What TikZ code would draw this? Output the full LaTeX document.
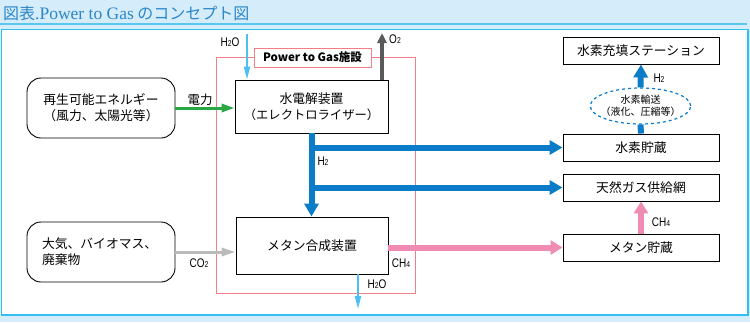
\documentclass[tikz,border=0pt]{standalone}
\usepackage{fontspec}
\setmainfont{Noto Sans CJK JP}
\newfontfamily\titlelatin{Liberation Serif}
\newfontfamily\cond[FakeStretch=0.8]{Liberation Sans}
\usetikzlibrary{arrows.meta,shapes.geometric}
\definecolor{bgblue}{HTML}{D5ECFA}
\definecolor{titleline}{HTML}{5CC6EF}
\definecolor{panelc}{HTML}{33BEF0}
\definecolor{titleblue}{HTML}{2B86C8}
\definecolor{redc}{HTML}{F07F86}
\definecolor{greenc}{HTML}{27A844}
\definecolor{lblue}{HTML}{4DBFF0}
\definecolor{darkg}{HTML}{5A5A5A}
\definecolor{bluec}{HTML}{0A7CC8}
\definecolor{lgray}{HTML}{BBBBBB}
\definecolor{pinkc}{HTML}{F08CB4}
\newcommand\subs[1]{{\fontsize{8.5}{8.5}\selectfont #1}}
\newcommand\lpar{\makebox[0.55em][r]{（}}
\newcommand\rpar{\makebox[0.55em][l]{）}}
\begin{document}
\begin{tikzpicture}[x=1pt,y=-1pt,
  box/.style={draw=black, line width=0.9pt, fill=white, inner sep=0pt, font=\fontsize{12.8}{16}\selectfont, align=center},
  rbox/.style={box, rounded corners=14pt},
  lbl/.style={font=\cond\fontsize{12.5}{12.5}\selectfont, inner sep=0pt},
  jlbl/.style={font=\fontsize{12.5}{12.5}\selectfont, inner sep=0pt},
  bluearr/.style={draw=bluec, line width=6pt, -{Triangle[length=13pt,width=14pt]}},
  blueline/.style={draw=bluec, line width=6pt},
  pinkarr/.style={draw=pinkc, line width=6pt, -{Triangle[length=12pt,width=14pt]}},
  greenarr/.style={draw=greenc, line width=3pt, -{Triangle[length=13pt,width=8pt]}},
  co2arr/.style={draw=lgray, line width=3pt, -{Triangle[length=14pt,width=8pt]}},
  lbarr/.style={draw=lblue, line width=2pt, -{Triangle[length=13pt,width=6pt]}},
  o2arr/.style={draw=darkg, line width=4pt, -{Triangle[length=10pt,width=9pt]}}
]
\useasboundingbox (0,0) rectangle (750,322);
\fill[bgblue] (0,0) rectangle (750,322);
\draw[titleline, line width=1.5pt] (0,24) -- (747,24);
\filldraw[fill=white, draw=panelc, line width=1.5pt] (1.5,29.5) rectangle (748,315);
\node[anchor=west, text=titleblue, inner sep=0pt, font=\fontsize{16}{16}\selectfont] (title) at (3,13) {図表{\titlelatin\fontsize{17.5}{17.5}\selectfont .Power to Gas} のコンセプト図};

% facility frame
\draw[redc, line width=0.9pt] (216,57) rectangle (415,293);
\node[draw=redc, line width=0.9pt, fill=white, minimum width=117pt, minimum height=19pt, inner sep=0pt, font=\bfseries\fontsize{11.5}{11.5}\selectfont] (ptg) at (312.5,57.5) {Power to Gas施設};

% boxes
\node[box, minimum width=153pt, minimum height=53pt] (e) at (311.5,106.5) {水電解装置\\{\fontsize{12.3}{16}\selectfont\lpar エレクトロライザー\rpar}};
\node[box, minimum width=152pt, minimum height=57pt] (m) at (312,245.5) {メタン合成装置};
\node[rbox, minimum width=148pt, minimum height=60pt] (rb) at (101,108) {再生可能エネルギー\\\lpar 風力、太陽光等\rpar};
\node[rbox, minimum width=148pt, minimum height=60pt, text width=118pt, align=left] (ab) at (101,252) {大気、バイオマス、\\廃棄物};
\node[box, minimum width=156pt, minimum height=27pt] (st) at (641,50.5) {水素充填ステーション};
\node[box, minimum width=156pt, minimum height=27pt] (hs) at (641,147.5) {水素貯蔵};
\node[box, minimum width=156pt, minimum height=27pt] (ng) at (641,187.5) {天然ガス供給網};
\node[box, minimum width=156pt, minimum height=27pt] (ms) at (641,247.5) {メタン貯蔵};
\node[ellipse, draw=bluec, dashed, line width=1.2pt, fill=white, minimum width=91pt, minimum height=36pt, inner sep=0pt, align=center, font=\fontsize{10}{12}\selectfont] (tr) at (640.5,106) {水素輸送\\\lpar 液化、圧縮等\rpar};

% connectors
\draw[greenarr] (rb.east) -- (e.west |- rb.east);
\node[jlbl] (lpow) at (200,100) {電力};

\coordinate (h2oin) at (247,34);
\draw[lbarr] (h2oin) -- (h2oin |- e.north);
\node[lbl] (lh2oa) at (230,42) {H\subs{2}O};

\coordinate (o2out) at (382,33);
\draw[o2arr] (o2out |- e.north) -- (o2out);
\node[lbl] (lo2) at (395,39) {O\subs{2}};

\draw[bluearr] (e.south) -- (e.south |- m.north);
\draw[bluearr] (e.south |- hs.west) -- (hs.west);
\draw[bluearr] (e.south |- ng.west) -- (ng.west);
\node[lbl] (lh2a) at (323,161) {H\subs{2}};

\draw[co2arr] (ab.east) -- (m.west |- ab.east);
\node[lbl] (lco2) at (199,263) {CO\subs{2}};

\draw[pinkarr] (m.east |- ms.west) -- (ms.west);
\node[lbl] (lch4a) at (401,263) {CH\subs{4}};

\coordinate (h2oout) at (358,309);
\draw[lbarr] (m.south -| h2oout) -- (h2oout);
\node[lbl] (lh2ob) at (377,284) {H\subs{2}O};

\draw[pinkarr] (ms.north) -- (ng.south);
\node[lbl] (lch4b) at (661,222) {CH\subs{4}};

\draw[blueline] (hs.north) -- (tr.south);
\draw[bluearr] (tr.north) -- (st.south);
\node[lbl] (lh2b) at (659,78) {H\subs{2}};
\end{tikzpicture}
\end{document}
